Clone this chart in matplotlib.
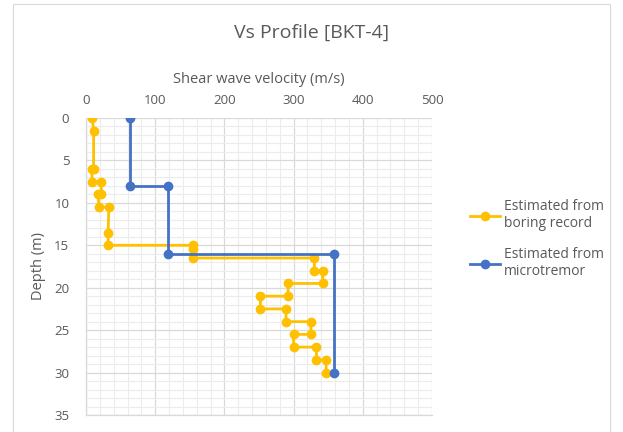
import matplotlib
matplotlib.use("Agg")
import matplotlib.pyplot as plt
from matplotlib.ticker import MultipleLocator
from matplotlib.lines import Line2D

plt.rcParams['font.family'] = ['Open Sans', 'DejaVu Sans']

# Step profiles: shear wave velocity (m/s) against depth (m)
boring_vs = [9, 11, 11, 8, 9, 22, 22, 17, 19, 33, 32, 32, 154, 154, 154,
             330, 330, 342, 342, 292, 292, 252, 252, 289, 289, 325, 325,
             300, 300, 333, 333, 347, 347]
boring_depth = [0, 1.5, 6, 6, 7.5, 7.5, 9, 9, 10.5, 10.5, 13.5, 15, 15, 15.4, 16.5,
                16.5, 18, 18, 19.5, 19.5, 21, 21, 22.5, 22.5, 24, 24, 25.5,
                25.5, 27, 27, 28.5, 28.5, 30]

micro_vs = [64, 64, 118, 118, 358, 358]
micro_depth = [0, 8, 8, 16, 16, 30]

x_ticks = [0, 100, 200, 300, 400, 500]
y_ticks = [0, 5, 10, 15, 20, 25, 30, 35]

title = "Vs Profile [BKT-4]"
x_label = "Shear wave velocity (m/s)"
y_label = "Depth (m)"
series_names = ["Estimated from\nboring record", "Estimated from\nmicrotremor"]

orange = "#FFC000"
blue = "#4472C4"
text_col = "#595959"

W, H = 623, 432
fig = plt.figure(figsize=(W / 100, H / 100), dpi=100)
fig.patch.set_facecolor("white")

# chart-area border
border = plt.Rectangle((13 / W, -0.05), (610 - 13) / W, 1.05 - 4 / H,
                       transform=fig.transFigure, fill=False,
                       edgecolor="#d9d9d9", linewidth=0.8)
fig.patches.append(border)

ax = fig.add_axes([86 / W, 1 - 415 / H, (432 - 86) / W, (415 - 118) / H])

ax.plot(boring_vs, boring_depth, color=orange, linewidth=2.0,
        marker="o", markersize=6, label=series_names[0], zorder=3)
ax.plot(micro_vs, micro_depth, color=blue, linewidth=2.0,
        marker="o", markersize=6, label=series_names[1], zorder=3)

ax.set_xlim(0, 500)
ax.set_ylim(35, 0)
ax.set_xticks(x_ticks)
ax.set_yticks(y_ticks)
ax.xaxis.set_minor_locator(MultipleLocator(20))
ax.yaxis.set_minor_locator(MultipleLocator(1))
ax.xaxis.tick_top()
ax.xaxis.set_label_position("top")

ax.grid(which="major", color="#d9d9d9", linewidth=0.9, zorder=0)
ax.grid(which="minor", color="#ececec", linewidth=0.8, zorder=0)
ax.set_axisbelow(True)

ax.tick_params(which="both", length=0, colors=text_col, labelsize=9.5)
ax.tick_params(axis="x", pad=8)
ax.tick_params(axis="y", pad=12)
for s in ["top", "right"]:
    ax.spines[s].set_visible(False)
for s in ["left", "bottom"]:
    ax.spines[s].set_color("#d9d9d9")
    ax.spines[s].set_linewidth(0.9)

ax.set_xlabel(x_label, color=text_col, fontsize=10.5, labelpad=8)
ax.set_ylabel(y_label, color=text_col, fontsize=10.5, labelpad=6)

fig.text(312 / W, 1 - 33 / H, title, ha="center", va="center",
         color=text_col, fontsize=14)

handles = [Line2D([], [], color=orange, linewidth=2.0, marker="o", markersize=6),
           Line2D([], [], color=blue, linewidth=2.0, marker="o", markersize=6)]
leg = fig.legend(handles, series_names, loc="center left",
                 bbox_to_anchor=(457 / W, 1 - 239 / H), frameon=False,
                 fontsize=10, labelcolor=text_col, handlelength=2.2,
                 handletextpad=0.3, labelspacing=1.1)
for t in leg.get_texts():
    t.set_linespacing(1.25)

fig.savefig("out.png", dpi=100, facecolor="white")
